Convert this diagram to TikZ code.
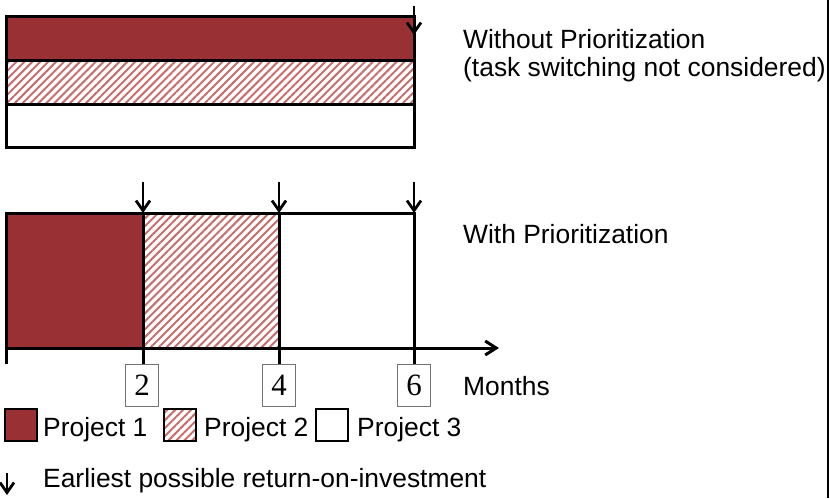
\documentclass[tikz,border=0pt]{standalone}
\usepackage{fontspec}
\setmainfont{Liberation Sans}
\newfontfamily\numfont{Liberation Serif}
\usetikzlibrary{arrows.meta,patterns.meta}
\definecolor{pone}{RGB}{153,48,51}
\definecolor{ptwo}{RGB}{200,110,110}
\begin{document}
\begin{tikzpicture}[x=1pt,y=-1pt,
  bar/.style={draw=black, line width=3pt, anchor=north west, inner sep=0pt, outer sep=0pt},
  hatch/.style={pattern={Lines[angle=45,distance=5.6pt,line width=2pt]}, pattern color=ptwo},
  legbox/.style={draw=black, line width=2.8pt, anchor=north west, minimum width=32pt, minimum height=32pt, inner sep=0pt, outer sep=0pt},
  numbox/.style={draw=black!55, line width=1pt, minimum width=33pt, minimum height=42pt, inner sep=0pt, outer sep=0pt, font=\numfont\fontsize{31}{32}\selectfont},
  lbl/.style={anchor=base west, inner sep=0pt, font=\fontsize{26.4}{28}\selectfont},
  roi/.style={line width=2.8pt, -{Straight Barb[length=10pt,width=14pt]}},
  axis/.style={line width=3pt, -{Straight Barb[length=11pt,width=14pt]}},
  tick/.style={line width=3pt}]
\useasboundingbox (0,0) rectangle (830,498);
% top chart
\node[bar, fill=pone, minimum width=408pt, minimum height=44pt] (a1) at (6,16) {};
\node[bar, hatch, minimum width=408pt, minimum height=44pt] (a2) at (6,60) {};
\node[bar, minimum width=408pt, minimum height=43pt] (a3) at (6,104) {};
\coordinate (s0) at (414,6);
\coordinate (e0) at (414,35);
\draw[roi] (s0) -- (e0);
\node[lbl] (w1) at (463,48) {Without Prioritization};
\node[lbl] (w2) at (463,76) {(task switching not considered)};
% bottom chart
\node[bar, fill=pone, minimum width=137pt, minimum height=135pt] (b1) at (6,213) {};
\node[bar, hatch, minimum width=136pt, minimum height=135pt] (b2) at (143,213) {};
\node[bar, minimum width=135pt, minimum height=135pt] (b3) at (279,213) {};
\coordinate (s1) at (143,182);
\coordinate (s2) at (279,182);
\coordinate (s3) at (414,182);
\draw[roi] (s1) -- (b1.north east);
\draw[roi] (s2) -- (b2.north east);
\draw[roi] (s3) -- (b3.north east);
\node[lbl] (wp) at (463,243) {With Prioritization};
% axis
\coordinate (axend) at (499,348);
\draw[axis] (b1.south west) -- (axend);
\node[numbox] (n2) at (142,385) {2};
\node[numbox] (n4) at (279,385) {4};
\node[numbox] (n6) at (414,385) {6};
\coordinate (t0) at (6,364);
\draw[tick] (b1.south west) -- (t0);
\draw[tick] (b1.south east) -- (b1.south east |- n2.north);
\draw[tick] (b2.south east) -- (b2.south east |- n4.north);
\draw[tick] (b3.south east) -- (b3.south east |- n6.north);
\node[lbl] (mo) at (463,395) {Months};
% legend
\node[legbox, fill=pone] (l1) at (5,409) {};
\node[lbl] (l1t) at (43,436) {Project 1};
\node[legbox, hatch] (l2) at (164,409) {};
\node[lbl] (l2t) at (204,436) {Project 2};
\node[legbox] (l3) at (316,409) {};
\node[lbl] (l3t) at (357,436) {Project 3};
\coordinate (r0) at (7,473);
\coordinate (r1) at (7,495);
\draw[roi] (r0) -- (r1);
\node[lbl] (rt) at (43,487) {Earliest possible return-on-investment};
% right border
\coordinate (v0) at (828,0);
\coordinate (v1) at (828,498);
\draw[line width=1.6pt] (v0) -- (v1);
\end{tikzpicture}
\end{document}
